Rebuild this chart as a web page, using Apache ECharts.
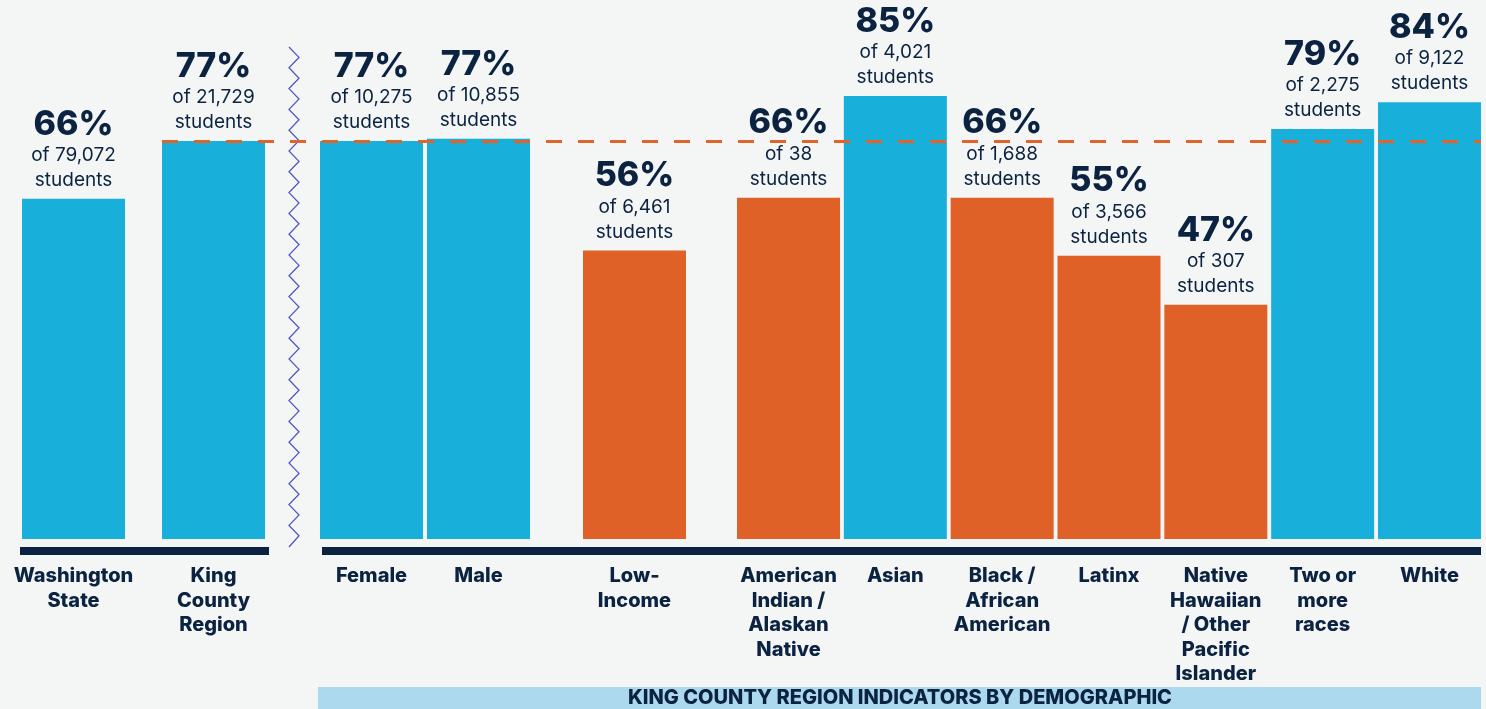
<!DOCTYPE html>
<html>
<head>
<meta charset="utf-8">
<script src="https://cdn.jsdelivr.net/npm/echarts@6/dist/echarts.min.js"></script>
<style>
html,body{margin:0;padding:0;background:#f4f6f5;}
#chart{width:1486px;height:709px;}
</style>
</head>
<body>
<div id="chart"></div>
<script>
// ---- data ----
const overallCategories = ['Washington\nState', 'King\nCounty\nRegion'];
const overallValues = [65.8, 77.0];
const overallPct = ['66%', '77%'];
const overallCounts = ['79,072', '21,729'];

const genderCategories = ['Female', 'Male'];
const genderValues = [77.0, 77.4];
const genderPct = ['77%', '77%'];
const genderCounts = ['10,275', '10,855'];

const incomeCategories = ['Low-\nIncome'];
const incomeValues = [55.8];
const incomePct = ['56%'];
const incomeCounts = ['6,461'];

const raceCategories = ['American\nIndian /\nAlaskan\nNative', 'Asian', 'Black /\nAfrican\nAmerican', 'Latinx', 'Native\nHawaiian\n/ Other\nPacific\nIslander', 'Two or\nmore\nraces', 'White'];
const raceValues = [66.0, 85.7, 66.0, 54.8, 45.3, 79.3, 84.5];
const racePct = ['66%', '85%', '66%', '55%', '47%', '79%', '84%'];
const raceCounts = ['38', '4,021', '1,688', '3,566', '307', '2,275', '9,122'];

const kingCountyReference = 77;
const bannerText = 'KING COUNTY REGION INDICATORS BY DEMOGRAPHIC';

// ---- styles ----
const NAVY = '#0b2341';
const BLUE = '#19afdb';
const ORANGE = '#e06127';
const FONT = 'Inter, "Noto Sans", sans-serif';

const groups = [
  {cats: overallCategories, vals: overallValues, pct: overallPct, counts: overallCounts, demo: false, left: 3.5, width: 280},
  {cats: genderCategories, vals: genderValues, pct: genderPct, counts: genderCounts, demo: true, left: 318, width: 214},
  {cats: incomeCategories, vals: incomeValues, pct: incomePct, counts: incomeCounts, demo: true, left: 581, width: 107},
  {cats: raceCategories, vals: raceValues, pct: racePct, counts: raceCounts, demo: true, left: 735.1, width: 747.8}
];

const TOP = 22, HEIGHT = 517;
const grid = [], xAxis = [], yAxis = [], series = [];
groups.forEach((g, i) => {
  grid.push({left: g.left, width: g.width, top: TOP, height: HEIGHT, containLabel: false});
  xAxis.push({
    type: 'category', gridIndex: i, data: g.cats,
    axisLine: {show: false}, axisTick: {show: false},
    axisLabel: {margin: 25, color: NAVY, fontFamily: FONT, fontWeight: 800, fontSize: 20, lineHeight: 24.5, interval: 0}
  });
  yAxis.push({type: 'value', gridIndex: i, min: 0, max: 100, show: false, splitLine: {show: false}});
  series.push({
    type: 'bar', xAxisIndex: i, yAxisIndex: i, barWidth: 103,
    data: g.vals.map(v => ({
      value: v,
      itemStyle: {color: (g.demo && v < kingCountyReference - 0.5) ? ORANGE : BLUE}
    })),
    label: {
      show: true, position: 'top', distance: 6,
      formatter: p => '{p|' + g.pct[p.dataIndex] + '}\n{s|of ' + g.counts[p.dataIndex] + '}\n{s|students}',
      rich: {
        p: {fontFamily: FONT, fontWeight: 800, fontSize: 34, lineHeight: 37, color: NAVY, align: 'center'},
        s: {fontFamily: FONT, fontWeight: 400, fontSize: 19, lineHeight: 25, color: NAVY, align: 'center'}
      },
      align: 'center'
    },
    z: 2
  });
});

// reference line grid (same vertical scale)
grid.push({left: 162, width: 1319, top: TOP, height: HEIGHT});
xAxis.push({type: 'value', gridIndex: 4, min: 0, max: 1, show: false});
yAxis.push({type: 'value', gridIndex: 4, min: 0, max: 100, show: false, splitLine: {show: false}});
series.push({
  type: 'line', xAxisIndex: 4, yAxisIndex: 4, data: [[0, kingCountyReference]],
  symbol: 'none', lineStyle: {opacity: 0}, silent: true, z: 10,
  markLine: {
    silent: true, symbol: ['none', 'none'], label: {show: false},
    lineStyle: {color: '#e0632a', width: 3, type: [16, 16]},
    data: [{yAxis: kingCountyReference}]
  }
});

// zigzag break marker
const zig = [];
for (let i = 0; i <= 48; i++) {
  zig.push([i % 2 === 0 ? 289 : 299, 47 + i * 10.4 + (i === 48 ? 0.8 : 0)]);
}

const chart = echarts.init(document.getElementById('chart'));
chart.setOption({
  backgroundColor: '#f4f6f5',
  animation: false,
  grid, xAxis, yAxis, series,
  graphic: [
    {type: 'rect', shape: {x: 20, y: 547, width: 249, height: 8}, style: {fill: NAVY}, z: 5},
    {type: 'rect', shape: {x: 322, y: 547, width: 1159, height: 8}, style: {fill: NAVY}, z: 5},
    {type: 'polyline', shape: {points: zig}, style: {stroke: '#5357c4', lineWidth: 1.3, fill: null}, z: 5},
    {type: 'rect', shape: {x: 318, y: 687, width: 1163, height: 22}, style: {fill: '#acd9ee'}, z: 5},
    {type: 'text', x: 900, y: 698, style: {text: bannerText, fill: NAVY, font: '800 20px ' + FONT, textAlign: 'center', textVerticalAlign: 'middle'}, z: 6}
  ]
});
</script>
</body>
</html>
